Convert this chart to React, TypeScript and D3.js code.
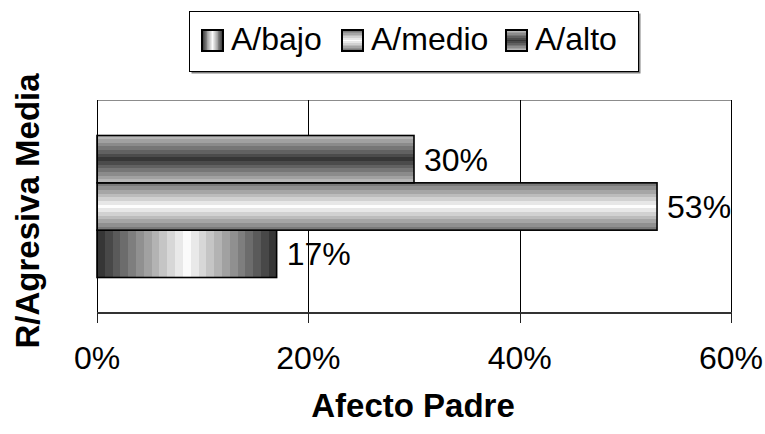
import React from "react";
import * as d3 from "d3";

const categories = ["R/Agresiva Media"];
const seriesNames = ["A/bajo", "A/medio", "A/alto"];
const seriesValues = [17, 53, 30];
const tickValues = [0, 20, 40, 60];
const xTitle = "Afecto Padre";
const yTitle = "R/Agresiva Media";

const W = 765;
const H = 434;
const FONT = "'Liberation Sans', Arial, sans-serif";

type GradSpec = { id: string; vertical: boolean; edge: string; center: string; bands: number };
const gradSpecs: GradSpec[] = [
  { id: "g-bajo", vertical: false, edge: "#363636", center: "#fbfbfb", bands: 12 },
  { id: "g-medio", vertical: true, edge: "#7a7a7a", center: "#fdfdfd", bands: 7 },
  { id: "g-alto", vertical: true, edge: "#b6b6b6", center: "#363636", bands: 7 },
];

function steppedStops(spec: GradSpec) {
  const interp = d3.interpolateRgb(spec.edge, spec.center);
  const total = spec.bands * 2 - 1;
  const stops: { off: number; color: string }[] = [];
  for (let i = 0; i < total; i++) {
    const k = i < spec.bands ? i : total - 1 - i;
    const c = interp(k / (spec.bands - 1));
    stops.push({ off: i / total, color: c });
    stops.push({ off: (i + 1) / total, color: c });
  }
  return stops;
}

export default function App() {
  const x = d3.scaleLinear().domain([0, 60]).range([97, 731]);
  const yCat = d3.scaleBand<string>().domain(categories).range([100, 313]).paddingInner(0).paddingOuter(0.25);
  const order = [...seriesNames].reverse(); // alto on top, bajo at bottom
  const cat = categories[0];
  const ySer = d3
    .scaleBand<string>()
    .domain(order)
    .range([yCat(cat)!, yCat(cat)! + yCat.bandwidth()]);

  const plotTop = 100;
  const plotBottom = 313;
  const legendX = [201, 341, 505];

  return (
    <svg
      width={W}
      height={H}
      style={{ position: "absolute", left: 0, top: 0, background: "#fff" }}
      fontFamily={FONT}
    >
      <defs>
        {gradSpecs.map((g) => (
          <linearGradient
            key={g.id}
            id={g.id}
            x1="0"
            y1="0"
            x2={g.vertical ? "0" : "1"}
            y2={g.vertical ? "1" : "0"}
          >
            {steppedStops(g).map((s, i) => (
              <stop key={i} offset={s.off} stopColor={s.color} />
            ))}
          </linearGradient>
        ))}
      </defs>
      <rect x={0} y={0} width={W} height={H} fill="#fff" />

      {/* plot border top */}
      <line x1={x(0)} x2={x(60)} y1={plotTop + 0.5} y2={plotTop + 0.5} stroke="#8c8c8c" strokeWidth={1} />

      {/* gridlines */}
      {tickValues.slice(1).map((t) => (
        <line
          key={t}
          x1={Math.round(x(t)) + 0.5}
          x2={Math.round(x(t)) + 0.5}
          y1={plotTop}
          y2={plotBottom}
          stroke="#000"
          strokeWidth={1}
        />
      ))}

      {/* bars */}
      {seriesNames.map((name, i) => {
        const v = seriesValues[i];
        const y = ySer(name)!;
        const h = ySer.bandwidth();
        return (
          <g key={name}>
            <rect
              x={x(0)}
              y={y}
              width={x(v) - x(0)}
              height={h}
              fill={`url(#${gradSpecs[i].id})`}
              stroke="#000"
              strokeWidth={1.6}
            />
            <text x={x(v) + 10} y={y + h / 2 + 11.5} fontSize={32} fill="#000">
              {v}%
            </text>
          </g>
        );
      })}

      {/* left axis */}
      <line x1={x(0) + 0.5} x2={x(0) + 0.5} y1={plotTop} y2={plotBottom} stroke="#000" strokeWidth={1} />
      {/* bottom axis */}
      <line x1={x(0)} x2={x(60) + 1} y1={plotBottom} y2={plotBottom} stroke="#333" strokeWidth={2} />
      {tickValues.map((t) => (
        <g key={t}>
          <line
            x1={Math.round(x(t)) + 0.5}
            x2={Math.round(x(t)) + 0.5}
            y1={plotBottom}
            y2={plotBottom + 10}
            stroke="#222"
            strokeWidth={1}
          />
          <text x={x(t)} y={369} fontSize={32} textAnchor="middle" fill="#000">
            {t}%
          </text>
        </g>
      ))}

      {/* axis titles */}
      <text x={413} y={417} fontSize={33} fontWeight="bold" textAnchor="middle" fill="#000">
        {xTitle}
      </text>
      <text
        transform={`translate(39, 211) rotate(-90)`}
        fontSize={33}
        fontWeight="bold"
        textAnchor="middle"
        fill="#000"
      >
        {yTitle}
      </text>

      {/* legend */}
      <rect x={191.5} y={13.5} width={449} height={60} fill="#808080" />
      <rect x={189.5} y={11.5} width={449} height={60} fill="#fff" stroke="#000" strokeWidth={1} />
      {seriesNames.map((name, i) => (
        <g key={name}>
          <rect
            x={legendX[i] + 1}
            y={30}
            width={21}
            height={21}
            fill={`url(#${gradSpecs[i].id})`}
            stroke="#000"
            strokeWidth={2}
          />
          <text x={legendX[i] + 30} y={50} fontSize={32} fill="#000">
            {name}
          </text>
        </g>
      ))}
    </svg>
  );
}
